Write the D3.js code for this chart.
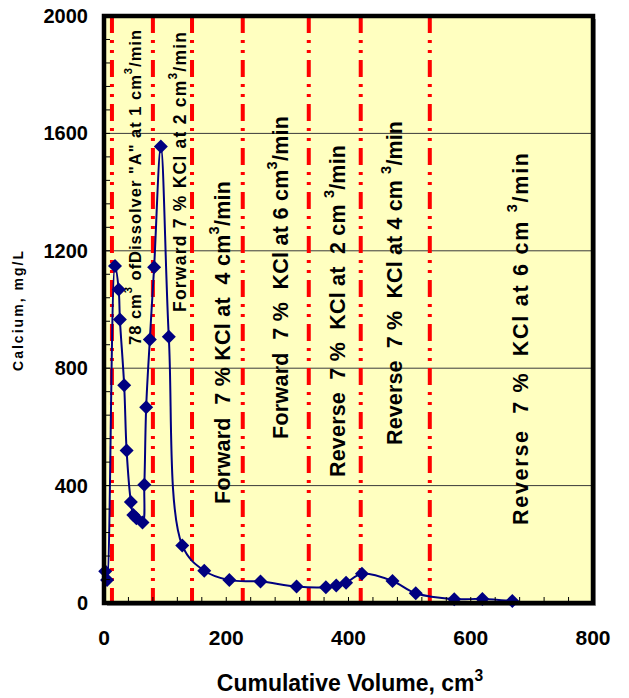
<!DOCTYPE html>
<html><head><meta charset="utf-8">
<script src="https://cdn.jsdelivr.net/npm/d3@7"></script>
<style>
body{margin:0;background:#fff;}
text{font-family:"Liberation Sans",Arial,sans-serif;font-weight:bold;white-space:pre;}
</style>
</head><body>
<svg id="chart" width="629" height="698"></svg>
<script>
// ---- data ----
const volume  = [2, 5, 18, 24, 26, 33, 37, 44, 48, 53, 63, 66, 69, 75, 82, 93, 106, 128, 164, 205, 256, 315, 363, 380, 396, 422, 472, 510, 573, 619, 668];
const calcium = [108, 78, 1148, 1068, 966, 742, 520, 344, 300, 289, 274, 403, 667, 898, 1144, 1555, 907, 196, 110, 78, 73, 56, 54, 60, 69, 100, 75, 33, 13, 14, 7];
const xTickValues = [0, 200, 400, 600, 800];
const yTickValues = [0, 400, 800, 1200, 1600, 2000];
const stageBoundaries = [13, 80, 144, 227, 335, 420, 533];
const stageLabels = [
  "78 cm³ ofDissolver \"A\" at 1 cm³/min",
  "Forward 7 % KCl at 2 cm³/min",
  "Forward  7 % KCl at  4 cm³/min",
  "Forward  7 %  KCl at 6 cm³/min",
  "Reverse  7 %  KCl at  2 cm ³/min",
  "Reverse  7 %  KCl at 4 cm ³/min",
  "Reverse  7 %  KCl at 6 cm ³/min"
];
const xTitle = "Cumulative Volume, cm³";
const yTitle = "Calcium, mg/L";

// ---- layout ----
const svg = d3.select("#chart");
const L = 104, R = 593, T = 16, B = 603;
const x = d3.scaleLinear().domain([0, 800]).range([L, R]);
const y = d3.scaleLinear().domain([0, 2000]).range([B, T]);

// label layout: [center x in px, start y in px, font size, length in px]
const labelLayout = [
  [135, 345, 16.5, 315],
  [180, 312, 17.5, 280],
  [223, 504, 21.5, 323],
  [281, 439, 21.5, 323],
  [338, 477, 21.5, 332],
  [395, 445, 21.5, 324],
  [521, 525, 21.5, 372]
];

// shadow + background
svg.append("rect").attr("x", L + 3).attr("y", T + 3).attr("width", R - L).attr("height", B - T).attr("fill", "#9a9a9a");
svg.append("rect").attr("x", L).attr("y", T).attr("width", R - L).attr("height", B - T).attr("fill", "#FFFFC0");

// gridlines
svg.append("g").selectAll("line").data(yTickValues.filter(v => v > 0 && v < 2000)).join("line")
  .attr("x1", L).attr("x2", R).attr("y1", d => y(d)).attr("y2", d => y(d))
  .attr("stroke", "#3a3a3a").attr("stroke-width", 1);

// stage boundaries
svg.append("g").selectAll("line").data(stageBoundaries).join("line")
  .attr("x1", d => x(d)).attr("x2", d => x(d)).attr("y1", T).attr("y2", B)
  .attr("stroke", "#ff0000").attr("stroke-width", 4)
  .attr("stroke-dasharray", "17,7,3,7,3,7");

// rich text helper with superscript 3
function richText(sel, str, fs) {
  const parts = str.split("³");
  parts.forEach((p, i) => {
    if (i > 0) {
      sel.append("tspan").attr("font-size", fs * 0.68).attr("dy", -fs * 0.42).text("3");
      sel.append("tspan").attr("dy", fs * 0.42).text(p);
    } else {
      sel.append("tspan").text(p);
    }
  });
}

// stage labels
stageLabels.forEach((s, i) => {
  const [cx, sy, fs, len] = labelLayout[i];
  const t = svg.append("text")
    .attr("transform", `translate(${cx},${sy}) rotate(-90)`)
    .attr("font-size", fs).attr("fill", "#000")
    .attr("dominant-baseline", "central")
    .attr("text-anchor", "start");
  richText(t, s, fs);
  t.attr("textLength", len).attr("lengthAdjust", "spacing");
});

// data line
const line = d3.line().x((d, i) => x(volume[i])).y((d, i) => y(calcium[i])).curve(d3.curveCatmullRom.alpha(0.5));
svg.append("path").datum(calcium).attr("d", line).attr("fill", "none").attr("stroke", "#000080").attr("stroke-width", 2);

// markers (diamonds)
const s = 7;
svg.append("g").selectAll("path").data(calcium).join("path")
  .attr("d", (d, i) => {
    const px = x(volume[i]), py = y(d);
    return `M${px},${py - s}L${px + s},${py}L${px},${py + s}L${px - s},${py}Z`;
  })
  .attr("fill", "#000080");

// border
svg.append("rect").attr("x", L).attr("y", T).attr("width", R - L).attr("height", B - T)
  .attr("fill", "none").attr("stroke", "#000").attr("stroke-width", 4.5);

// minor ticks
svg.append("g").selectAll("line").data(d3.range(0, 2001, 80)).join("line")
  .attr("x1", L).attr("x2", L + 6).attr("y1", d => y(d)).attr("y2", d => y(d))
  .attr("stroke", "#000").attr("stroke-width", 1);
svg.append("g").selectAll("line").data(d3.range(0, 801, 40)).join("line")
  .attr("x1", d => x(d)).attr("x2", d => x(d)).attr("y1", B).attr("y2", B - 6)
  .attr("stroke", "#000").attr("stroke-width", 1);

// tick labels
svg.append("g").selectAll("text").data(yTickValues).join("text")
  .attr("x", 88).attr("y", d => y(d)).attr("text-anchor", "end").attr("dominant-baseline", "central")
  .attr("font-size", 20).text(d => d);
svg.append("g").selectAll("text").data(xTickValues).join("text")
  .attr("x", d => x(d)).attr("y", 637).attr("text-anchor", "middle").attr("dominant-baseline", "central")
  .attr("font-size", 21).text(d => d);

// axis titles
const xt = svg.append("text").attr("x", 350).attr("y", 691).attr("text-anchor", "middle").attr("font-size", 23);
richText(xt, xTitle, 23);
svg.append("text").attr("transform", "translate(18,311) rotate(-90)").attr("text-anchor", "middle")
  .attr("dominant-baseline", "central").attr("font-size", 14).attr("textLength", 120).attr("lengthAdjust", "spacing").text(yTitle);
</script>
</body></html>
